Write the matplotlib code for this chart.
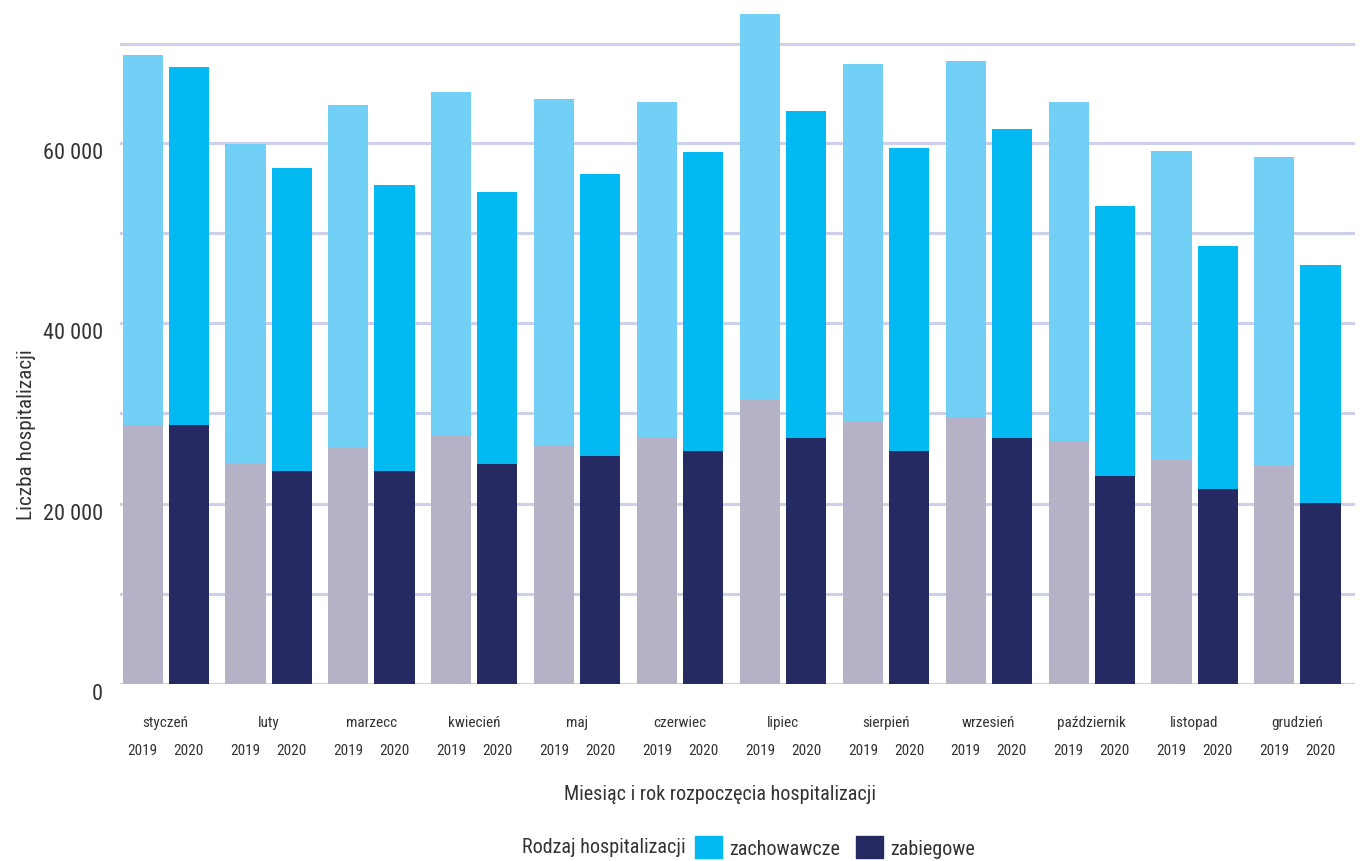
import numpy as np
import matplotlib.pyplot as plt
from matplotlib import font_manager
from matplotlib.patches import Patch
from matplotlib.transforms import ScaledTranslation, blended_transform_factory

# wąska czcionka, jeśli jest zainstalowana
narrow = None
for f in font_manager.fontManager.ttflist:
    if f.stretch in ('condensed', 'semi-condensed') and f.style == 'normal' and f.weight in (400, 'normal', 'regular'):
        narrow = f
        break
for name in ['Roboto Condensed', 'Liberation Sans Narrow', 'Noto Sans Condensed', 'Open Sans Condensed']:
    if any(f.name == name for f in font_manager.fontManager.ttflist):
        narrow = [f for f in font_manager.fontManager.ttflist if f.name == name][0]
        break
if narrow is not None:
    plt.rcParams['font.family'] = [narrow.name, 'DejaVu Sans']
    plt.rcParams['font.stretch'] = narrow.stretch
    scale = 1.0
else:
    plt.rcParams['font.family'] = ['Roboto', 'DejaVu Sans']
    scale = 0.85

months = ['styczeń', 'luty', 'marzecc', 'kwiecień', 'maj', 'czerwiec',
          'lipiec', 'sierpień', 'wrzesień', 'październik', 'listopad', 'grudzień']
years = ['2019', '2020']

# liczba hospitalizacji w tysiącach
total_2019 = np.array([69.7, 59.9, 64.2, 65.6, 64.9, 64.5, 74.3, 68.7, 69.1, 64.5, 59.1, 58.4])
total_2020 = np.array([68.4, 57.2, 55.3, 54.6, 56.5, 59.0, 63.5, 59.4, 61.5, 53.0, 48.6, 46.5])
zabieg_2019 = np.array([28.7, 24.4, 26.3, 27.6, 26.4, 27.3, 31.5, 29.0, 29.6, 26.9, 24.8, 24.2])
zabieg_2020 = np.array([28.7, 23.6, 23.6, 24.4, 25.3, 25.8, 27.3, 25.8, 27.3, 23.1, 21.6, 20.1])
zachow_2019 = total_2019 - zabieg_2019
zachow_2020 = total_2020 - zabieg_2020

yticks = [0, 20000, 40000, 60000]
grid_top = 71000

col_zachow = ['#72D0F6', '#02BAF1']
col_zabieg = ['#B5B2C8', '#252A63']
grid_col = '#CDD0EA'
text_col = '#333333'

fs_tick = 16 * scale
fs_label = 15.3 * scale
fs_bottom = 14.5 * scale
fs_small = 11 * scale

fig = plt.figure(figsize=(13.6, 8.62), dpi=100)
ax = fig.add_axes([0.088, 0.2053, 0.908, 0.790])

x = np.arange(len(months))
off = 0.224
w = 0.39

ax.bar(x - off, zabieg_2019 * 1000, w, color=col_zabieg[0], zorder=3)
ax.bar(x - off, zachow_2019 * 1000, w, bottom=zabieg_2019 * 1000, color=col_zachow[0], zorder=3)
ax.bar(x + off, zabieg_2020 * 1000, w, color=col_zabieg[1], zorder=3)
ax.bar(x + off, zachow_2020 * 1000, w, bottom=zabieg_2020 * 1000, color=col_zachow[1], zorder=3)

for g in list(range(0, 70000, 10000)) + [grid_top]:
    ax.axhline(g, color=grid_col, lw=2.2, zorder=1)

ax.set_xlim(-0.447, 11.555)
ax.set_ylim(0, 75500)
for s in ax.spines.values():
    s.set_visible(False)

ax.set_xticks([])
ax.set_yticks(yticks)
ax.set_yticklabels([f'{v:,}'.replace(',', ' ') for v in yticks], fontsize=fs_tick, color=text_col)
ax.tick_params(axis='y', length=0, pad=12)
for lab in ax.get_yticklabels():
    lab.set_transform(lab.get_transform() + ScaledTranslation(0, -7 / 100, fig.dpi_scale_trans))

trans = blended_transform_factory(ax.transData, ax.transAxes)
for i, m in enumerate(months):
    ax.text(i, -0.056, m, transform=trans, ha='center', va='center', fontsize=fs_small, color=text_col)
    ax.text(i - off, -0.097, years[0], transform=trans, ha='center', va='center', fontsize=fs_small, color=text_col)
    ax.text(i + off, -0.097, years[1], transform=trans, ha='center', va='center', fontsize=fs_small, color=text_col)

ax.set_ylabel('Liczba hospitalizacji', fontsize=fs_label, color=text_col)
ax.yaxis.set_label_coords(-84 / 1235, 0.367)
fig.text(720 / 1360, 1 - 795 / 862, 'Miesiąc i rok rozpoczęcia hospitalizacji',
         ha='center', va='center', fontsize=fs_bottom, color=text_col)

# legenda: tytuł po lewej, dalej kwadraty z opisami
leg_y = 1 - 848 / 862
title = fig.text(522 / 1360, leg_y, 'Rodzaj hospitalizacji', ha='left', va='center',
                 fontsize=fs_bottom, color=text_col)
r = fig.canvas.get_renderer()
title_right = title.get_window_extent(r).x1
handles = [Patch(color=col_zachow[1], label='zachowawcze'),
           Patch(color=col_zabieg[1], label='zabiegowe')]
fig.legend(handles=handles, loc='center left', bbox_to_anchor=((title_right + 9) / 1360, leg_y),
           ncol=2, frameon=False, fontsize=fs_bottom, handlelength=1.35, handleheight=1.35,
           handletextpad=0.35, columnspacing=0.8, borderpad=0, borderaxespad=0,
           labelcolor=text_col)

fig.savefig('out.png', dpi=100)
